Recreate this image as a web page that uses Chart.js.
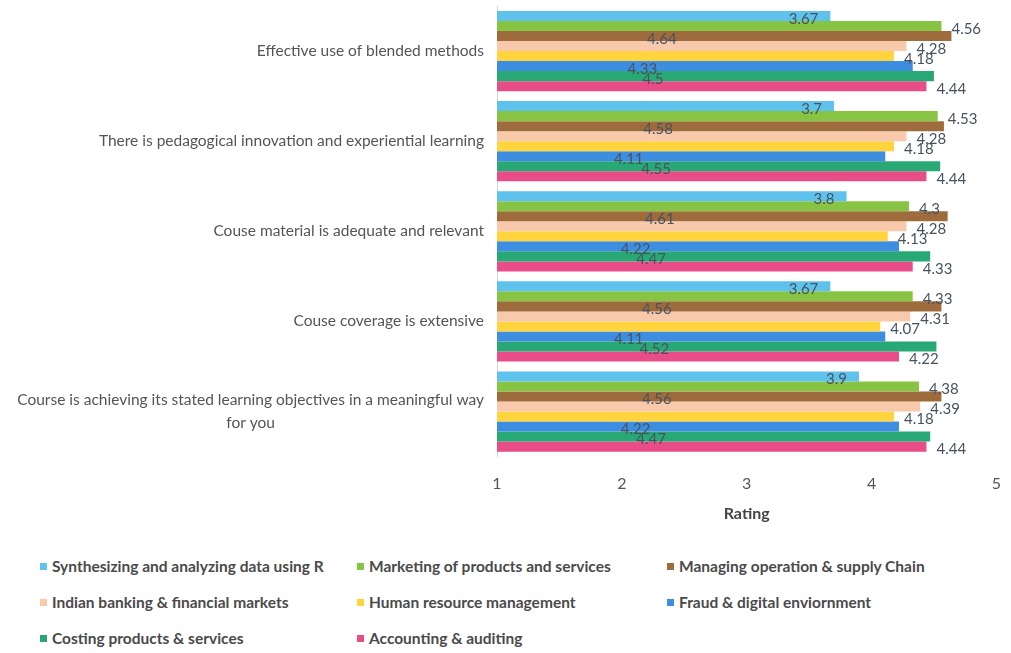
<!DOCTYPE html>
<html>
<head>
<meta charset="utf-8">
<script src="https://cdn.jsdelivr.net/npm/chart.js@4.4.0/dist/chart.umd.min.js"></script>
<style>
    body { margin: 0; background: #fff; font-family: Lato, sans-serif; }
    #wrap { position: relative; width: 1011px; height: 653px; }
    #chartBox { position: absolute; left: 0; top: 0; width: 1011px; height: 525px; }
    #legend { position: absolute; left: 40px; top: 556px; display: grid;
        grid-template-columns: 317px 310px 300px; row-gap: 16px; }
    .item { display: flex; align-items: center; font-size: 15.5px; font-weight: bold; color: #4a4a4a; height: 20px; white-space: nowrap; }
    .box { width: 7px; height: 7px; margin-right: 5px; }
</style>
</head>
<body>
<div id="wrap">
    <div id="chartBox"><canvas id="ratingChart"></canvas></div>
    <div id="legend"></div>
</div>
<script>
// categorias (eje y)
const categories = [
    ['Effective use of blended methods'],
    ['There is pedagogical innovation and experiential learning'],
    ['Couse material is adequate and relevant'],
    ['Couse coverage is extensive'],
    ['Course is achieving its stated learning objectives in a meaningful way', 'for you']
];

const xTicks = [1, 2, 3, 4, 5];

// valores por curso
const synthesizing = [3.67, 3.7, 3.8, 3.67, 3.9];
const marketing = [4.56, 4.53, 4.3, 4.33, 4.38];
const managing = [4.64, 4.58, 4.61, 4.56, 4.56];
const banking = [4.28, 4.28, 4.28, 4.31, 4.39];
const humanRes = [4.18, 4.18, 4.13, 4.07, 4.18];
const fraud = [4.33, 4.11, 4.22, 4.11, 4.22];
const costing = [4.5, 4.55, 4.47, 4.52, 4.47];
const accounting = [4.44, 4.44, 4.33, 4.22, 4.44];

const seriesNames = [
    'Synthesizing and analyzing data using R',
    'Marketing of products and services',
    'Managing operation & supply Chain',
    'Indian banking & financial markets',
    'Human resource management',
    'Fraud & digital enviornment',
    'Costing products & services',
    'Accounting & auditing'
];
const seriesData = [synthesizing, marketing, managing, banking, humanRes, fraud, costing, accounting];
const seriesColors = ['#5ec2ec', '#88c443', '#9e6c3c', '#f8caab', '#ffd43c', '#3d8de0', '#27a874', '#e84d88'];
// donde va la etiqueta de cada serie
const labelPos = ['insideEnd', 'outside', 'center', 'outside', 'outside', 'center', 'center', 'outside'];

const datasets = seriesNames.map((name, i) => ({
    label: name,
    data: seriesData[i],
    backgroundColor: seriesColors[i],
    borderWidth: 0,
    categoryPercentage: 0.89,
    barPercentage: 1.0,
}));

// etiquetas de valores sobre las barras
const valueLabels = {
    id: 'valueLabels',
    afterDatasetsDraw(chart) {
        const ctx = chart.ctx;
        ctx.save();
        ctx.font = '15px Lato';
        ctx.fillStyle = '#46535f';
        ctx.textBaseline = 'middle';
        chart.data.datasets.forEach((ds, i) => {
            const meta = chart.getDatasetMeta(i);
            meta.data.forEach((bar, j) => {
                const text = String(ds.data[j]);
                const y = bar.y + 3;
                if (labelPos[i] === 'insideEnd') {
                    ctx.textAlign = 'right';
                    ctx.fillText(text, bar.x - 12, y);
                } else if (labelPos[i] === 'center') {
                    ctx.textAlign = 'center';
                    ctx.fillText(text, (bar.base + bar.x) / 2, y);
                } else {
                    ctx.textAlign = 'left';
                    ctx.fillText(text, bar.x + 10, y);
                }
            });
        });
        ctx.restore();
    }
};

// etiquetas de categorias, la ultima linea centrada bajo la primera
const categoryLabels = {
    id: 'categoryLabels',
    afterDraw(chart) {
        const ctx = chart.ctx;
        const yScale = chart.scales.y;
        const right = chart.chartArea.left - 13;
        ctx.save();
        ctx.font = '15.5px Lato';
        ctx.fillStyle = '#555';
        ctx.textBaseline = 'middle';
        ctx.textAlign = 'center';
        categories.forEach((lines, i) => {
            const w = Math.max(...lines.map(l => ctx.measureText(l).width));
            const cy = yScale.getPixelForValue(i);
            const lineH = 23;
            const top = cy - (lines.length - 1) * lineH / 2;
            lines.forEach((l, k) => {
                ctx.fillText(l, right - w / 2, top + k * lineH);
            });
        });
        ctx.restore();
    }
};

const ctx = document.getElementById('ratingChart').getContext('2d');
new Chart(ctx, {
    type: 'bar',
    data: {
        labels: categories.map(c => c.join(' ')),
        datasets: datasets,
    },
    options: {
        indexAxis: 'y',
        responsive: true,
        maintainAspectRatio: false,
        animation: false,
        layout: {
            padding: { left: 489, top: 6, right: 6, bottom: 2 }
        },
        scales: {
            x: {
                min: xTicks[0],
                max: xTicks[xTicks.length - 1],
                afterBuildTicks: (axis) => { axis.ticks = xTicks.map(v => ({ value: v })); },
                grid: { display: false },
                border: { display: false },
                ticks: {
                    color: '#555',
                    font: { family: 'Lato', size: 16 },
                    padding: 10,
                },
                title: {
                    display: true,
                    text: 'Rating',
                    color: '#444',
                    font: { family: 'Lato', size: 16, weight: 'bold' },
                    padding: { top: 0, bottom: 0 },
                },
            },
            y: {
                grid: { display: false },
                border: { display: true, color: '#d4d4d4' },
                ticks: { display: false },
            },
        },
        plugins: {
            legend: { display: false },
            tooltip: { enabled: false },
        },
    },
    plugins: [valueLabels, categoryLabels],
});

// leyenda en html, 3 columnas
const legend = document.getElementById('legend');
seriesNames.forEach((name, i) => {
    let div = document.createElement('div');
    div.className = 'item';
    div.innerHTML = `<span class="box" style="background:${seriesColors[i]}"></span>${name}`;
    legend.appendChild(div);
});
</script>
</body>
</html>
